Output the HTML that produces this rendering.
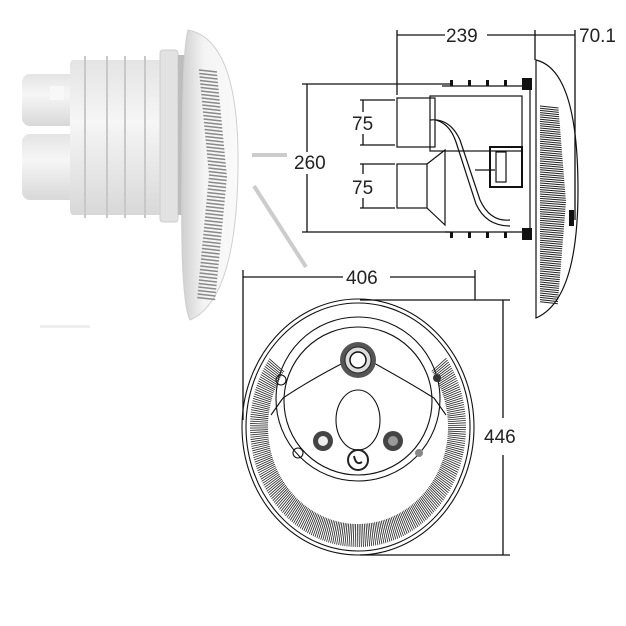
<!DOCTYPE html>
<html><head><meta charset="utf-8"><style>
html,body{margin:0;padding:0;background:#fff;}
svg{display:block;}
text{font-family:"Liberation Sans",sans-serif;font-size:19px;fill:#222;}
</style></head><body>
<svg id="s" width="626" height="626" viewBox="0 0 626 626" xmlns="http://www.w3.org/2000/svg">
<defs>
<linearGradient id="cyl" x1="0" y1="0" x2="0" y2="1">
<stop offset="0" stop-color="#e4e4e4"/><stop offset="0.4" stop-color="#f6f6f6"/><stop offset="1" stop-color="#d8d8d8"/>
</linearGradient>
<linearGradient id="dish" x1="0" y1="0" x2="1" y2="0">
<stop offset="0" stop-color="#cfcfcf"/><stop offset="0.4" stop-color="#f4f4f4"/><stop offset="1" stop-color="#fafafa"/>
</linearGradient>
</defs>
<!-- 3D product -->
<rect x="22" y="74" width="55" height="52" rx="8" fill="url(#cyl)"/>
<rect x="22" y="134" width="55" height="66" rx="8" fill="url(#cyl)"/>
<rect x="50" y="86" width="14" height="14" fill="#f8f8f8"/>
<rect x="70" y="60" width="100" height="155" rx="4" fill="url(#cyl)"/>
<g stroke="#c8c8c8" stroke-width="2" fill="none">
<line x1="85" y1="56" x2="85" y2="218"/><line x1="107" y1="56" x2="107" y2="218"/>
<line x1="125" y1="56" x2="125" y2="218"/><line x1="145" y1="56" x2="145" y2="218"/>
</g>
<rect x="160" y="50" width="18" height="172" rx="3" fill="#e2e2e2" stroke="#cfcfcf"/>
<rect x="178" y="55" width="8" height="160" fill="#bdbdbd"/>
<path d="M188 30 Q240 40 238 170 Q236 300 190 320 Q180 300 182 175 Q182 50 188 30Z" fill="url(#dish)" stroke="#cfcfcf"/>
<g id="sideL" stroke="#8a8a8a" stroke-width="1.5"></g>
<rect x="40" y="325" width="50" height="3" fill="#eee"/>
<!-- grey projection lines -->
<line x1="252" y1="155" x2="287" y2="155" stroke="#ccc" stroke-width="4"/>
<line x1="254" y1="186" x2="306" y2="267" stroke="#ccc" stroke-width="4"/>
<!-- dimensions -->
<g stroke="#111" stroke-width="1.3" fill="none">
<line x1="307" y1="84" x2="307" y2="152"/><line x1="307" y1="174" x2="307" y2="232"/>
<line x1="302" y1="84" x2="450" y2="84"/><line x1="302" y1="232" x2="450" y2="232"/>
<line x1="397" y1="30" x2="397" y2="95"/><line x1="535" y1="30" x2="535" y2="60"/>
<line x1="575" y1="30" x2="575" y2="220"/>
<line x1="397" y1="35" x2="445" y2="35"/><line x1="487" y1="35" x2="575" y2="35"/>
<line x1="363" y1="100" x2="363" y2="112"/><line x1="363" y1="134" x2="363" y2="145"/>
<line x1="360" y1="100" x2="395" y2="100"/><line x1="360" y1="145" x2="395" y2="145"/>
<line x1="363" y1="164" x2="363" y2="174"/><line x1="363" y1="198" x2="363" y2="208"/>
<line x1="360" y1="164" x2="395" y2="164"/><line x1="360" y1="208" x2="395" y2="208"/>
<line x1="243" y1="277" x2="343" y2="277"/><line x1="390" y1="277" x2="475" y2="277"/>
<line x1="243" y1="270" x2="243" y2="420"/><line x1="475" y1="270" x2="475" y2="300"/>
<line x1="503" y1="300" x2="503" y2="418"/><line x1="503" y1="455" x2="503" y2="555"/>
<line x1="360" y1="300" x2="510" y2="300"/><line x1="360" y1="555" x2="510" y2="555"/>
</g>
<text x="294" y="169">260</text>
<text x="446" y="42">239</text>
<text x="579" y="42">70.1</text>
<text x="352" y="130">75</text>
<text x="352" y="194">75</text>
<text x="346" y="284">406</text>
<text x="484" y="443">446</text>
<!-- side technical view -->
<g stroke="#111" stroke-width="1.2" fill="none">
<rect x="397" y="98" width="38" height="49"/>
<rect x="397" y="164" width="30" height="44"/>
<path d="M427 164 L445 150 L445 225 L427 208"/>
<path d="M442 86 L530 86 L530 232 L445 232"/>
<rect x="430" y="96" width="92" height="55"/>
<path d="M430 120 Q450 118 460 140 L480 200 Q490 222 510 220"/>
<path d="M436 120 Q450 124 456 142 L476 204 Q486 226 510 226"/>
<rect x="490" y="147" width="32" height="40" stroke-width="2"/>
<rect x="496" y="152" width="10" height="30"/>
<line x1="475" y1="170" x2="495" y2="170"/>
<path d="M536 60 Q578 70 578 190 Q578 300 536 318 Z"/>
</g>
<g id="sideR" stroke="#222" stroke-width="1"></g>
<g fill="#111">
<rect x="450" y="80" width="3" height="6"/><rect x="468" y="80" width="3" height="6"/><rect x="486" y="80" width="3" height="6"/><rect x="504" y="80" width="3" height="6"/>
<rect x="450" y="232" width="3" height="6"/><rect x="468" y="232" width="3" height="6"/><rect x="486" y="232" width="3" height="6"/><rect x="504" y="232" width="3" height="6"/>
<rect x="522" y="78" width="10" height="12"/><rect x="522" y="228" width="10" height="12"/>
<rect x="569" y="210" width="5" height="16"/>
</g>
<!-- front view -->
<g stroke="#111" stroke-width="1.1" fill="none">
<ellipse cx="358" cy="427" rx="116" ry="128"/>
<ellipse cx="358" cy="427" rx="112" ry="124"/>
<circle cx="358" cy="399" r="82"/>
<circle cx="358" cy="401" r="74"/>
<path d="M283 398 Q310 380 345 362"/><path d="M434 398 Q405 380 372 362"/>
<path d="M283 398 L271 415"/><path d="M434 398 L446 415"/>
<ellipse cx="358" cy="420" rx="22" ry="30"/>
<circle cx="281" cy="380" r="5"/><circle cx="298" cy="453" r="5"/>
</g>
<g id="louv" stroke="#222" stroke-width="0.8"></g>
<circle cx="358" cy="360" r="18" fill="#555"/><circle cx="358" cy="360" r="13" fill="#ddd" stroke="#222"/><circle cx="358" cy="360" r="8" fill="#fff" stroke="#111" stroke-width="1.5"/>
<circle cx="323" cy="441" r="10" fill="#444"/><circle cx="323" cy="441" r="5" fill="#eee"/>
<circle cx="393" cy="441" r="10" fill="#444"/><circle cx="393" cy="441" r="5" fill="#999"/>
<circle cx="358" cy="460" r="10" fill="#fff" stroke="#222" stroke-width="2"/><path d="M354 456 Q356 466 362 462" stroke="#222" stroke-width="2" fill="none"/>
<circle cx="437" cy="378" r="4" fill="#333"/><circle cx="419" cy="453" r="4" fill="#888"/>
</svg>
<script>
var ns="http://www.w3.org/2000/svg";
function ln(g,x1,y1,x2,y2){var l=document.createElementNS(ns,"line");l.setAttribute("x1",x1);l.setAttribute("y1",y1);l.setAttribute("x2",x2);l.setAttribute("y2",y2);g.appendChild(l);}
var g=document.getElementById("louv");
for(var a=-35;a<=215;a+=1.1){var r=a*Math.PI/180;var c=Math.cos(r),s=Math.sin(r);
 var y2=427+124*s; if(y2<345)continue;
 ln(g,358+108*c,427+120*s,358+90*c,427+97*s);}
var gr=document.getElementById("sideR");
for(var y=106;y<302;y+=2.2){var w=Math.max(10,26-Math.abs(y-200)*0.08);ln(gr,540,y,540+w,y+2);}
var gl=document.getElementById("sideL");
for(var y=70;y<300;y+=3.5){var t=(y-175)/125;var x=218-Math.abs(t)*12;ln(gl,x-9,y,x+9,y+2);}
</script>
</body></html>
